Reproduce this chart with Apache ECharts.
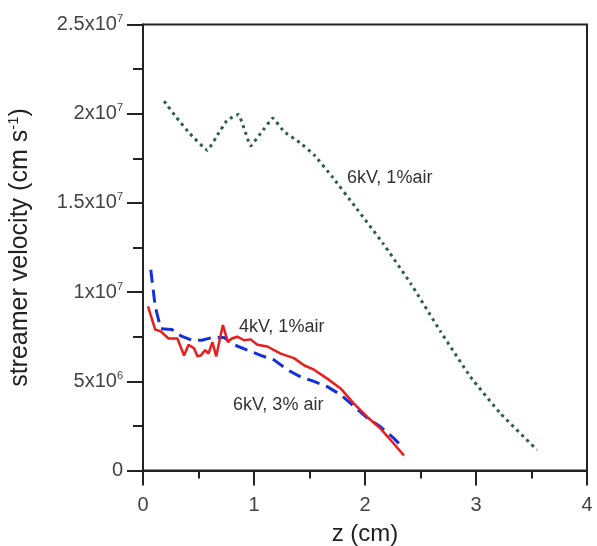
<!DOCTYPE html>
<html>
<head>
<meta charset="utf-8">
<script src="https://cdn.jsdelivr.net/npm/echarts@6/dist/echarts.min.js"></script>
<style>
  html, body { margin: 0; padding: 0; background: #fff; }
  #chart { width: 597px; height: 546px; }
</style>
</head>
<body>
<div id="chart"></div>
<script>
// 6kV, 1% air  (z in cm, velocity in cm/s)
const z6kv1 = [0.19, 0.30, 0.42, 0.58, 0.68, 0.76, 0.86, 0.97, 1.06, 1.17, 1.27, 1.42, 1.54, 1.70, 1.91, 2.16, 2.41, 2.68, 2.95, 3.22, 3.55]
const v6kv1 = [20.7e6, 19.8e6, 18.9e6, 17.95e6, 18.9e6, 19.65e6, 19.95e6, 18.2e6, 18.9e6, 19.75e6, 19.0e6, 18.35e6, 17.7e6, 16.5e6, 14.8e6, 12.75e6, 10.5e6, 7.8e6, 5.25e6, 3.2e6, 1.15e6]

// 6kV, 3% air
const z6kv3 = [0.07, 0.11, 0.16, 0.26, 0.34, 0.44, 0.53, 0.62, 0.73, 0.82, 0.94, 1.06, 1.18, 1.30, 1.42, 1.54, 1.66, 1.78, 1.90, 2.02, 2.14, 2.26, 2.34]
const v6kv3 = [11.25e6, 9.2e6, 7.95e6, 7.9e6, 7.55e6, 7.3e6, 7.3e6, 7.45e6, 7.45e6, 7.05e6, 6.75e6, 6.45e6, 6.2e6, 5.65e6, 5.25e6, 5.0e6, 4.7e6, 4.25e6, 3.6e6, 2.95e6, 2.45e6, 1.8e6, 1.3e6]

// 4kV, 1% air
const z4kv1 = [0.045, 0.11, 0.16, 0.23, 0.31, 0.37, 0.41, 0.46, 0.49, 0.52, 0.56, 0.59, 0.625, 0.66, 0.69, 0.72, 0.765, 0.80, 0.85, 0.91, 0.97, 1.03, 1.12, 1.24, 1.36, 1.45, 1.54, 1.66, 1.78, 1.90, 2.02, 2.14, 2.26, 2.35]
const v4kv1 = [9.2e6, 7.9e6, 7.8e6, 7.4e6, 7.4e6, 6.45e6, 7.05e6, 6.85e6, 6.4e6, 6.45e6, 6.75e6, 6.55e6, 7.2e6, 6.4e6, 7.3e6, 8.15e6, 7.2e6, 7.4e6, 7.5e6, 7.3e6, 7.35e6, 7.05e6, 6.95e6, 6.55e6, 6.3e6, 5.9e6, 5.65e6, 5.15e6, 4.6e6, 3.75e6, 3.0e6, 2.35e6, 1.5e6, 0.85e6]

const yTicks = { 0: '0', 5e6: '5x10|6', 1e7: '1x10|7', 1.5e7: '1.5x10|7', 2e7: '2x10|7', 2.5e7: '2.5x10|7' }

const zip = (xs, ys) => xs.map((x, i) => [x, ys[i]])

const chart = echarts.init(document.getElementById('chart'))
const font = 'Liberation Sans, Arial, sans-serif'

chart.setOption({
  animation: false,
  textStyle: { fontFamily: font },
  grid: {
    left: 143, right: 10, top: 24.5, bottom: 75.5,
    outerBoundsMode: 'none', containLabel: false,
    show: true, borderColor: '#222', borderWidth: 2,
  },
  xAxis: {
    type: 'value', min: 0, max: 4, interval: 1,
    name: 'z (cm)', nameLocation: 'middle', nameGap: 52,
    nameTextStyle: { fontSize: 24, color: '#222', fontFamily: font },
    axisLine: { show: true, onZero: false, lineStyle: { color: '#222', width: 2 } },
    axisTick: { show: true, length: 15, lineStyle: { color: '#222', width: 2 } },
    minorTick: { show: true, splitNumber: 2, length: 8, lineStyle: { color: '#222', width: 2 } },
    splitLine: { show: false },
    axisLabel: { fontSize: 20, color: '#444', margin: 25 },
  },
  yAxis: {
    type: 'value', min: 0, max: 2.5e7, interval: 5e6,
    name: 'streamer velocity (cm s{sup|-1})', nameLocation: 'middle', nameGap: 108,
    nameTextStyle: {
      fontSize: 25, color: '#222', fontFamily: font,
      rich: { sup: { fontSize: 15, color: '#222', fontFamily: font, verticalAlign: 'bottom', padding: [0, 0, 14, 0] } },
    },
    axisLine: { show: true, lineStyle: { color: '#222', width: 2 } },
    axisTick: { show: true, length: 16, lineStyle: { color: '#222', width: 2 } },
    minorTick: { show: true, splitNumber: 2, length: 10, lineStyle: { color: '#222', width: 2 } },
    splitLine: { show: false },
    axisLabel: {
      margin: 20, color: '#444', fontSize: 20,
      formatter: v => {
        const t = yTicks[v]
        if (t === undefined) return ''
        const p = t.split('|')
        return p.length === 1 ? '{b|' + p[0] + '}' : '{b|' + p[0] + '}{s|' + p[1] + '}'
      },
      rich: {
        b: { fontSize: 20, color: '#444', fontFamily: font },
        s: { fontSize: 11, color: '#444', fontFamily: font, verticalAlign: 'bottom', padding: [0, 0, 11, 0] },
      },
    },
  },
  series: [
    {
      name: '6kV, 1%air', type: 'line', data: zip(z6kv1, v6kv1),
      showSymbol: false, smooth: 0.1,
      lineStyle: { color: '#2c5d54', width: 3, type: [3, 4] },
    },
    {
      name: '6kV, 3% air', type: 'line', data: zip(z6kv3, v6kv3),
      showSymbol: false,
      lineStyle: { color: '#1530d8', width: 3, type: [13, 7] },
    },
    {
      name: '4kV, 1%air', type: 'line', data: zip(z4kv1, v4kv1),
      showSymbol: false,
      lineStyle: { color: '#ea1c1c', width: 2.5 },
    },
  ],
  graphic: [
    { type: 'text', left: 347, top: 169, style: { text: '6kV, 1%air', fontSize: 18, fill: '#333', fontFamily: font } },
    { type: 'text', left: 239, top: 318, style: { text: '4kV, 1%air', fontSize: 18, fill: '#333', fontFamily: font } },
    { type: 'text', left: 233, top: 396, style: { text: '6kV, 3% air', fontSize: 18, fill: '#333', fontFamily: font } },
  ],
})
</script>
</body>
</html>
